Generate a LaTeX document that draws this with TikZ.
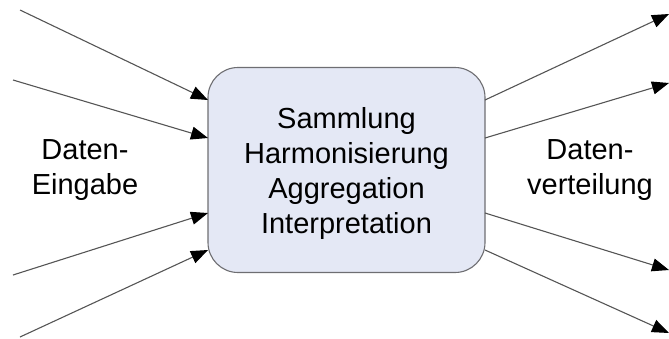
\documentclass[tikz,border=0pt]{standalone}
\usepackage{fontspec}
\setmainfont{Liberation Sans}
\usetikzlibrary{arrows.meta}
\definecolor{boxfill}{HTML}{E4E8F5}
\definecolor{boxline}{HTML}{6E6E72}
\definecolor{arrline}{HTML}{555555}
\begin{document}
\begin{tikzpicture}[x=1pt,y=-1pt,
  procbox/.style={draw=boxline,line width=1.1pt,fill=boxfill,rounded corners=30pt,
    minimum width=277pt,minimum height=205pt,inner sep=0pt},
  boxtext/.style={align=center,inner sep=0pt,font=\fontsize{29}{35}\selectfont},
  sidelabel/.style={align=center,inner sep=0pt,font=\fontsize{29}{35}\selectfont},
  flow/.style={draw=arrline,line width=1.1pt,
    -{Triangle[length=17pt,width=13pt,fill=black,color=black]}}]
\useasboundingbox (0,0) rectangle (669,338);
\node[procbox] (box) at (346.5,170) {};
\node[boxtext] (boxlabel) at (346.5,173.5) {Sammlung\\Harmonisierung\\Aggregation\\Interpretation};
\node[sidelabel] (lin) at (85,170) {Daten-\\Eingabe};
\node[sidelabel] (lout) at (590,170) {Daten-\\verteilung};
% incoming
\coordinate (s1) at (20,10);
\coordinate (s2) at (13,80);
\coordinate (s3) at (13,275);
\coordinate (s4) at (20,337);
\coordinate (e1) at (208,100);
\coordinate (e2) at (208,138);
\coordinate (e3) at (208,213);
\coordinate (e4) at (208,250);
% outgoing
\coordinate (o1) at (485,100);
\coordinate (o2) at (485,138);
\coordinate (o3) at (485,213);
\coordinate (o4) at (485,250);
\coordinate (t1) at (669,14);
\coordinate (t2) at (669,83);
\coordinate (t3) at (669,270);
\coordinate (t4) at (669,333);
\foreach \i in {1,2,3,4}{
  \draw[flow] (s\i) -- (e\i);
  \draw[flow] (o\i) -- (t\i);
}
\end{tikzpicture}
\end{document}
